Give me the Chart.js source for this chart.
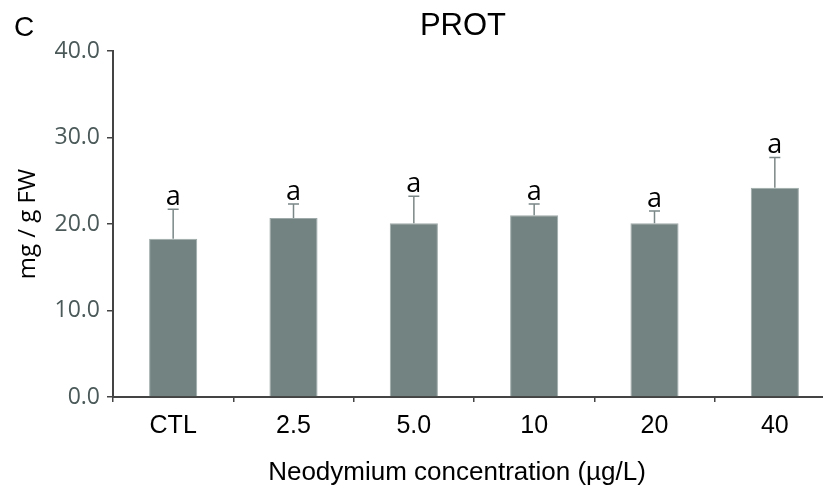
<!DOCTYPE html>
<html>
<head>
<meta charset="utf-8">
<script src="https://cdn.jsdelivr.net/npm/chart.js@4"></script>
<style>
  html, body { margin: 0; padding: 0; background: #fff; overflow: hidden; }
  /* the last category runs past the right edge in the original figure */
  #wrap { width: 836px; height: 493px; }
</style>
</head>
<body>
<div id="wrap"><canvas id="protChart"></canvas></div>
<script>
// Data
const concentrations = ['CTL', '2.5', '5.0', '10', '20', '40'];
const protMeans = [18.3, 20.7, 20.1, 21.0, 20.1, 24.2];
const protErrors = [3.4, 1.6, 3.1, 1.3, 1.4, 3.5];
const groupLetters = ['a', 'a', 'a', 'a', 'a', 'a'];
const yTicks = [0, 10, 20, 30, 40];

// Draws upper error bars and the significance letters
const errorBarPlugin = {
  id: 'errorBars',
  afterDatasetsDraw(chart) {
    const ctx = chart.ctx;
    const meta = chart.getDatasetMeta(0);
    const yScale = chart.scales.y;
    ctx.save();
    meta.data.forEach((bar, i) => {
      const top = yScale.getPixelForValue(protMeans[i] + protErrors[i]);
      const x = bar.x;
      ctx.strokeStyle = '#7b8786';
      ctx.lineWidth = 1.5;
      ctx.beginPath();
      ctx.moveTo(x, bar.y);
      ctx.lineTo(x, top);
      ctx.moveTo(x - 5.5, top);
      ctx.lineTo(x + 5.5, top);
      ctx.stroke();
      ctx.fillStyle = '#000';
      ctx.font = '27px "Open Sans"';
      ctx.textAlign = 'center';
      ctx.textBaseline = 'alphabetic';
      ctx.fillText(groupLetters[i], x, top - 4);
    });
    ctx.restore();
  }
};

// Panel letter, title and x-axis title, placed like the source figure
const labelsPlugin = {
  id: 'figureLabels',
  afterDraw(chart) {
    const ctx = chart.ctx;
    ctx.save();
    ctx.fillStyle = '#000';
    ctx.textBaseline = 'middle';
    ctx.textAlign = 'left';
    ctx.font = '28px "Liberation Sans"';
    ctx.fillText('C', 14, 28);
    ctx.textAlign = 'center';
    ctx.font = '31px "Liberation Sans"';
    ctx.fillText('PROT', 463, 26);
    ctx.font = '26px "Liberation Sans"';
    ctx.fillText('Neodymium concentration (µg/L)', 457, 473);
    ctx.restore();
  }
};

new Chart(document.getElementById('protChart'), {
  type: 'bar',
  data: {
    labels: concentrations,
    datasets: [{
      data: protMeans,
      backgroundColor: '#728381',
      borderColor: '#9eaaa9',
      borderWidth: 1,
      categoryPercentage: 1.0,
      barPercentage: 0.4
    }]
  },
  options: {
    responsive: true,
    maintainAspectRatio: false,
    animation: false,
    layout: { padding: { top: 51, right: 1, bottom: 0, left: 0 } },
    plugins: {
      legend: { display: false },
      tooltip: { enabled: false },
      title: { display: false }
    },
    scales: {
      x: {
        offset: true,
        afterFit(scale) {
          scale.height = 96;
        },
        grid: {
          display: true,
          offset: true,
          drawOnChartArea: false,
          drawTicks: true,
          tickLength: 5,
          color: '#444',
          lineWidth: 1.5
        },
        border: { display: true, color: '#444', width: 2 },
        ticks: {
          color: '#000',
          font: { family: 'Liberation Sans', size: 25 },
          padding: 9
        }
      },
      y: {
        min: 0,
        max: 40,
        afterBuildTicks(scale) {
          scale.ticks = yTicks.map(v => ({ value: v }));
        },
        afterFit(scale) {
          scale.width = 113;
        },
        grid: {
          display: true,
          drawOnChartArea: false,
          drawTicks: true,
          tickLength: 6,
          color: '#444',
          lineWidth: 1.5
        },
        border: { display: true, color: '#444', width: 2 },
        ticks: {
          color: '#4b5959',
          font: { family: 'Open Sans', size: 23 },
          padding: 7,
          callback: v => Number(v).toFixed(1)
        },
        title: {
          display: true,
          text: 'mg / g FW',
          color: '#000',
          font: { family: 'Open Sans', size: 24 },
          padding: { top: 14, bottom: 0 }
        }
      }
    }
  },
  plugins: [errorBarPlugin, labelsPlugin]
});
</script>
</body>
</html>
